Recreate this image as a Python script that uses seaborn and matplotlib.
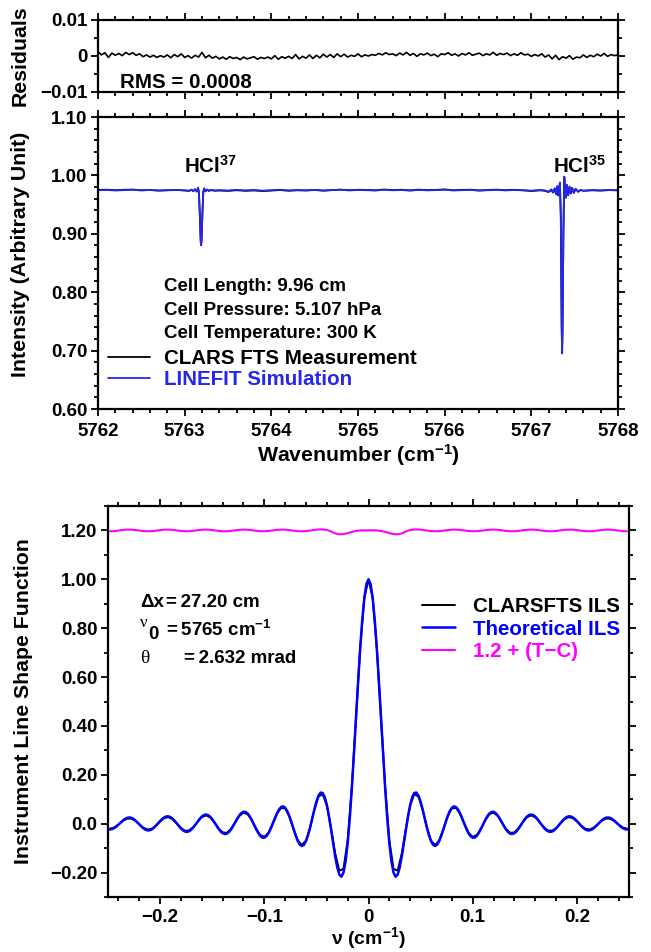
import numpy as np
import pandas as pd
import matplotlib
matplotlib.use("Agg")
import matplotlib.pyplot as plt
import seaborn as sns
from matplotlib.ticker import MultipleLocator, FuncFormatter

# ---------------- data ----------------
# Residuals (measurement - simulation), uniform 0.04 cm-1 sampling 5762..5768
resid = [
    0.0012, 0.0003, 0.0009, -0.0004, 0.0008, 0.0002, 0.0007, 0.0001, 0.0010, 0.0004,
    0.0009, 0.0002, 0.0006, -0.0002, 0.0003, -0.0003, 0.0002, -0.0004, 0.0001, -0.0003,
    0.0003, -0.0005, 0.0004, -0.0002, 0.0006, -0.0004, 0.0001, -0.0006, 0.0002, -0.0003,
    0.0010, -0.0005, 0.0002, -0.0006, -0.0001, -0.0008, -0.0003, -0.0009, -0.0002, -0.0007,
    -0.0004, -0.0010, -0.0003, -0.0008, -0.0005, -0.0002, -0.0009, -0.0004, -0.0007, -0.0003,
    -0.0008, 0.0001, -0.0009, -0.0002, -0.0006, -0.0001, -0.0007, 0.0004, -0.0008, -0.0001,
    -0.0006, 0.0003, -0.0007, 0.0002, -0.0005, 0.0005, -0.0003, 0.0004, -0.0004, 0.0006,
    -0.0002, 0.0005, -0.0003, 0.0002, -0.0001, 0.0006, -0.0002, 0.0003, 0.0000, 0.0004,
    0.0002, 0.0007, 0.0003, 0.0009, 0.0004, 0.0006, 0.0001, 0.0008, 0.0003, 0.0010,
    0.0002, 0.0007, -0.0001, 0.0006, 0.0003, 0.0008, 0.0001, 0.0005, -0.0002, 0.0006,
    0.0004, 0.0009, 0.0002, 0.0006, 0.0000, 0.0007, 0.0003, 0.0009, 0.0002, 0.0005,
    0.0008, 0.0001, 0.0006, 0.0003, 0.0010, 0.0002, 0.0007, 0.0004, 0.0008, 0.0001,
    0.0006, 0.0002, 0.0009, 0.0003, 0.0005, -0.0001, 0.0004, 0.0000, 0.0006, -0.0003,
    0.0003, -0.0008, 0.0002, -0.0010, -0.0002, -0.0006, 0.0001, -0.0009, -0.0003, -0.0005,
    0.0003, -0.0004, 0.0002, -0.0002, 0.0005, 0.0000, 0.0007, -0.0001, 0.0004, 0.0001,
    0.0003,
]
resid_nu = np.linspace(5762.0, 5768.0, len(resid))
rms_text = "RMS = 0.0008"

# Spectrum (wavenumber, LINEFIT simulation, CLARS FTS measurement)
spec_nu = [
    5762.0, 5762.1, 5762.2, 5762.3, 5762.4, 5762.5, 5762.6, 5762.7, 5762.8, 5762.9, 5763.0,
    5763.05, 5763.08, 5763.10, 5763.12, 5763.14, 5763.155, 5763.165, 5763.175, 5763.185, 5763.19,
    5763.195, 5763.205, 5763.215, 5763.225, 5763.24, 5763.26, 5763.28, 5763.30, 5763.35,
    5763.4, 5763.5, 5763.6, 5763.7, 5763.8, 5763.9, 5764.0, 5764.1, 5764.2, 5764.3,
    5764.4, 5764.5, 5764.6, 5764.7, 5764.8, 5764.9, 5765.0, 5765.1, 5765.2, 5765.3,
    5765.4, 5765.5, 5765.6, 5765.7, 5765.8, 5765.9, 5766.0, 5766.1, 5766.2, 5766.3,
    5766.4, 5766.5, 5766.6, 5766.7, 5766.8, 5766.9, 5767.0, 5767.1,
    5767.15, 5767.20, 5767.23, 5767.25, 5767.27, 5767.285, 5767.30, 5767.31, 5767.32, 5767.33,
    5767.34, 5767.35, 5767.355, 5767.36, 5767.37, 5767.38, 5767.39, 5767.40, 5767.41, 5767.425,
    5767.44, 5767.455, 5767.47, 5767.49, 5767.51, 5767.54, 5767.57, 5767.60,
    5767.7, 5767.8, 5767.9, 5768.0,
]
sim_int = [
    0.9745, 0.9751, 0.9741, 0.9748, 0.9754, 0.9743, 0.9750, 0.9740, 0.9747, 0.9752, 0.9744,
    0.9738, 0.9757, 0.9728, 0.9766, 0.9722, 0.9790, 0.9700, 0.9300, 0.8860, 0.8800,
    0.8880, 0.9350, 0.9720, 0.9780, 0.9725, 0.9760, 0.9732, 0.9752, 0.9742,
    0.9748, 0.9741, 0.9753, 0.9744, 0.9750, 0.9739, 0.9747, 0.9755, 0.9742, 0.9749,
    0.9744, 0.9752, 0.9740, 0.9748, 0.9754, 0.9743, 0.9750, 0.9746, 0.9741, 0.9753,
    0.9745, 0.9749, 0.9740, 0.9751, 0.9744, 0.9748, 0.9755, 0.9742, 0.9747, 0.9751,
    0.9739, 0.9746, 0.9752, 0.9743, 0.9749, 0.9745, 0.9738, 0.9750,
    0.9744, 0.9722, 0.9762, 0.9712, 0.9782, 0.9680, 0.9820, 0.9660, 0.9750, 0.9880,
    0.9300, 0.7400, 0.6950, 0.7350, 0.9000, 0.9980, 0.9750, 0.9620, 0.9840, 0.9660,
    0.9810, 0.9690, 0.9790, 0.9700, 0.9770, 0.9720, 0.9752, 0.9736,
    0.9745, 0.9740, 0.9748, 0.9743,
]
meas_int = [
    0.9752, 0.9755, 0.9747, 0.9754, 0.9757, 0.9746, 0.9750, 0.9741, 0.9745, 0.9750, 0.9742,
    0.9734, 0.9752, 0.9731, 0.9760, 0.9726, 0.9782, 0.9708, 0.9320, 0.8880, 0.8815,
    0.8895, 0.9360, 0.9712, 0.9772, 0.9729, 0.9755, 0.9736, 0.9748, 0.9738,
    0.9741, 0.9735, 0.9746, 0.9736, 0.9742, 0.9732, 0.9740, 0.9749, 0.9738, 0.9745,
    0.9742, 0.9750, 0.9740, 0.9749, 0.9756, 0.9746, 0.9754, 0.9751, 0.9745, 0.9758,
    0.9749, 0.9754, 0.9744, 0.9756, 0.9748, 0.9752, 0.9760, 0.9746, 0.9752, 0.9755,
    0.9743, 0.9751, 0.9756, 0.9747, 0.9752, 0.9746, 0.9733, 0.9744,
    0.9738, 0.9715, 0.9752, 0.9705, 0.9770, 0.9676, 0.9808, 0.9655, 0.9742, 0.9868,
    0.9310, 0.7420, 0.6965, 0.7370, 0.9010, 0.9965, 0.9745, 0.9618, 0.9832, 0.9662,
    0.9806, 0.9692, 0.9786, 0.9702, 0.9768, 0.9722, 0.9750, 0.9738,
    0.9747, 0.9742, 0.9750, 0.9745,
]
assert len(spec_nu) == len(sim_int) == len(meas_int)

cell_text = ["Cell Length: 9.96 cm", "Cell Pressure: 5.107 hPa", "Cell Temperature: 300 K"]
spec_labels = ["CLARS FTS Measurement", "LINEFIT Simulation"]

# Theoretical ILS, uniform 0.002 cm-1 sampling from -0.250 to 0.250
theo_ils = [
    -0.0223, -0.0236, -0.0222, -0.0182, -0.0120,
    -0.0042, 0.0041, 0.0121, 0.0188, 0.0234, 0.0254, 0.0245, 0.0207, 0.0144, 0.0063,
    -0.0027, -0.0115, -0.0191, -0.0247, -0.0275, -0.0271, -0.0235, -0.0171, -0.0086, 0.0010,
    0.0108, 0.0195, 0.0261, 0.0297, 0.0300, 0.0268, 0.0204, 0.0114, 0.0009, -0.0099,
    -0.0199, -0.0276, -0.0323, -0.0334, -0.0306, -0.0242, -0.0148, -0.0033, 0.0087, 0.0200,
    0.0293, 0.0354, 0.0375, 0.0352, 0.0288, 0.0188, 0.0063, -0.0072, -0.0203, -0.0314,
    -0.0390, -0.0424, -0.0408, -0.0345, -0.0240, -0.0101, 0.0053, 0.0205, 0.0339, 0.0436,
    0.0486, 0.0480, 0.0418, 0.0304, 0.0150, -0.0027, -0.0207, -0.0370, -0.0495, -0.0567,
    -0.0574, -0.0515, -0.0393, -0.0217, -0.0009, 0.0209, 0.0412, 0.0576, 0.0680, 0.0708,
    0.0654, 0.0519, 0.0315, 0.0063, -0.0210, -0.0474, -0.0700, -0.0851, -0.0912, -0.0869,
    -0.0718, -0.0472, -0.0152, 0.0211, 0.0578, 0.0902, 0.1145, 0.1272, 0.1256, 0.1087,
    0.0768, 0.0322, -0.0212, -0.0783, -0.1330, -0.1786, -0.2084, -0.2170, -0.1997, -0.1542,
    -0.0798, 0.0213, 0.1448, 0.2845, 0.4323, 0.5795, 0.7163, 0.8339, 0.9242, 0.9808,
    1.0000,
    0.9808, 0.9242, 0.8339, 0.7163, 0.5795, 0.4323, 0.2845, 0.1448, 0.0213, -0.0798,
    -0.1542, -0.1997, -0.2170, -0.2084, -0.1786, -0.1330, -0.0783, -0.0212, 0.0322, 0.0768,
    0.1087, 0.1256, 0.1272, 0.1145, 0.0902, 0.0578, 0.0211, -0.0152, -0.0472, -0.0718,
    -0.0869, -0.0912, -0.0851, -0.0700, -0.0474, -0.0210, 0.0063, 0.0315, 0.0519, 0.0654,
    0.0708, 0.0680, 0.0576, 0.0412, 0.0209, -0.0009, -0.0217, -0.0393, -0.0515, -0.0574,
    -0.0567, -0.0495, -0.0370, -0.0207, -0.0027, 0.0150, 0.0304, 0.0418, 0.0480, 0.0486,
    0.0436, 0.0339, 0.0205, 0.0053, -0.0101, -0.0240, -0.0345, -0.0408, -0.0424, -0.0390,
    -0.0314, -0.0203, -0.0072, 0.0063, 0.0188, 0.0288, 0.0352, 0.0375, 0.0354, 0.0293,
    0.0200, 0.0087, -0.0033, -0.0148, -0.0242, -0.0306, -0.0334, -0.0323, -0.0276, -0.0199,
    -0.0099, 0.0009, 0.0114, 0.0204, 0.0268, 0.0300, 0.0297, 0.0261, 0.0195, 0.0108,
    0.0010, -0.0086, -0.0171, -0.0235, -0.0271, -0.0275, -0.0247, -0.0191, -0.0115, -0.0027,
    0.0063, 0.0144, 0.0207, 0.0245, 0.0254, 0.0234, 0.0188, 0.0121, 0.0041, -0.0042,
    -0.0120, -0.0182, -0.0222, -0.0236, -0.0223,
]
# T - C difference, 0.004 cm-1 sampling -0.248..0.248
tc_diff = [
    -0.0035, -0.0026, -0.0006, 0.0017, 0.0033, 0.0033, 0.0019, -0.0004, -0.0025, -0.0035,
    -0.0029, -0.0011, 0.0013, 0.0031, 0.0034, 0.0023, 0.0001, -0.0021, -0.0034, -0.0032,
    -0.0015, 0.0009, 0.0028, 0.0035, 0.0026, 0.0006, -0.0018, -0.0033, -0.0033, -0.0019,
    0.0004, 0.0025, 0.0035, 0.0029, 0.0010, -0.0013, -0.0031, -0.0034, -0.0023, -0.0001,
    0.0022, 0.0034, 0.0031, 0.0014, -0.0009, -0.0028, -0.0035, -0.0026, -0.0005, 0.0020,
    0.0040, 0.0040, 0.0020, -0.0040, -0.0120, -0.0160, -0.0150, -0.0110, -0.0060, -0.0020,
    0.0000, 0.0005,
    0.0005,
    0.0005, 0.0000, -0.0020, -0.0060, -0.0110, -0.0150, -0.0160, -0.0120, -0.0040, 0.0020,
    0.0040, 0.0040, 0.0020, -0.0005, -0.0026, -0.0035, -0.0028, -0.0009, 0.0014, 0.0031,
    0.0034, 0.0022, -0.0001, -0.0023, -0.0034, -0.0031, -0.0013, 0.0010, 0.0029, 0.0035,
    0.0025, 0.0004, -0.0019, -0.0033, -0.0033, -0.0018, 0.0006, 0.0026, 0.0035, 0.0028,
    0.0009, -0.0015, -0.0032, -0.0034, -0.0021, 0.0001, 0.0023, 0.0034, 0.0031, 0.0013,
    -0.0011, -0.0029, -0.0035, -0.0025, -0.0004, 0.0019, 0.0033, 0.0033, 0.0017, -0.0006,
    -0.0026, -0.0035,
]
assert len(theo_ils) == 251 and len(tc_diff) == 125
ils_nu = np.linspace(-0.25, 0.25, len(theo_ils))
tc_nu = ils_nu[1::2]
ils_labels = ["CLARSFTS ILS", "Theoretical ILS", "1.2 + (T\u2212C)"]
tc_offset = 1.2

# ---------------- style ----------------
sns.set_theme(style="ticks")
plt.rcParams["font.family"] = ["Liberation Sans", "DejaVu Sans"]
plt.rcParams["font.weight"] = "bold"
plt.rcParams["axes.labelweight"] = "bold"
plt.rcParams["mathtext.default"] = "regular"
plt.rcParams["text.color"] = "black"
plt.rcParams["axes.labelcolor"] = "black"

FS = 13.5      # tick labels / annotations
FL = 14.8      # legend, RMS, HCl labels
FA = 15.3      # axis labels
SPEC_BLUE = "#2626ee"
ILS_BLUE = "#0000ff"
MAGENTA = "#ff00ff"


def style_axes(ax, xpad=5):
    for s in ax.spines.values():
        s.set_linewidth(1.6)
        s.set_color("black")
    ax.tick_params(which="both", direction="out", top=True, right=True,
                   colors="black", width=1.3)
    ax.tick_params(which="major", length=5, labelsize=FS)
    ax.tick_params(which="minor", length=3)
    ax.tick_params(axis="x", which="major", pad=xpad)
    ax.tick_params(axis="y", which="major", pad=2.5)
    for lab in ax.get_xticklabels() + ax.get_yticklabels():
        lab.set_fontweight("bold")


def minus_fmt(fmt):
    def f(v, pos):
        return fmt(v).replace("-", "\u2212")
    return FuncFormatter(f)


fig = plt.figure(figsize=(6.51, 9.52), dpi=100)
W, H = 651.0, 952.0
ax1 = fig.add_axes([98 / W, 1 - 92 / H, 520 / W, 72 / H])
ax2 = fig.add_axes([98 / W, 1 - 409 / H, 520 / W, 292 / H])
ax3 = fig.add_axes([108 / W, 1 - 897 / H, 521 / W, 391 / H])

# ---- residuals ----
sns.lineplot(x=resid_nu, y=resid, ax=ax1, color="black", lw=1.2,
             estimator=None, errorbar=None)
ax1.set_xlim(5762, 5768)
ax1.set_ylim(-0.01, 0.01)
ax1.xaxis.set_major_locator(MultipleLocator(1))
ax1.xaxis.set_minor_locator(MultipleLocator(0.2))
ax1.yaxis.set_major_locator(MultipleLocator(0.01))
ax1.yaxis.set_minor_locator(MultipleLocator(0.005))
ax1.yaxis.set_major_formatter(minus_fmt(lambda v: "0" if abs(v) < 1e-9 else f"{v:.2f}"))
ax1.tick_params(axis="x", labelbottom=False)
ax1.set_xlabel("")
ax1.set_ylabel("Residuals", fontsize=FA, fontweight="bold")
ax1.yaxis.set_label_coords(-0.131, 0.5)
ax1.text(0.042, 0.125, rms_text, transform=ax1.transAxes, ha="left", va="center",
         fontsize=FL, fontweight="bold")
style_axes(ax1)

# ---- spectrum ----
sns.lineplot(x=spec_nu, y=meas_int, ax=ax2, color="black", lw=1.3,
             estimator=None, errorbar=None, label=spec_labels[0])
sns.lineplot(x=spec_nu, y=sim_int, ax=ax2, color=SPEC_BLUE, lw=1.3,
             estimator=None, errorbar=None, label=spec_labels[1])
ax2.set_xlim(5762, 5768)
ax2.set_ylim(0.60, 1.10)
ax2.xaxis.set_major_locator(MultipleLocator(1))
ax2.xaxis.set_minor_locator(MultipleLocator(0.2))
ax2.yaxis.set_major_locator(MultipleLocator(0.1))
ax2.yaxis.set_minor_locator(MultipleLocator(0.02))
ax2.xaxis.set_major_formatter(FuncFormatter(lambda v, p: f"{v:.0f}"))
ax2.yaxis.set_major_formatter(FuncFormatter(lambda v, p: f"{v:.2f}"))
ax2.set_xlabel("Wavenumber (cm$^{-1}$)", fontsize=FA, fontweight="bold")
ax2.set_ylabel("Intensity (Arbitrary Unit)", fontsize=FA, fontweight="bold")
ax2.yaxis.set_label_coords(-0.131, 0.53)
ax2.xaxis.set_label_coords(0.5, -0.112)
ax2.text(5763.30, 1.016, "HCl$^{37}$", ha="center", va="center", fontsize=FL, fontweight="bold")
ax2.text(5767.56, 1.016, "HCl$^{35}$", ha="center", va="center", fontsize=FL, fontweight="bold")
for txt, yy in zip(cell_text, [0.418, 0.336, 0.257]):
    ax2.text(0.127, yy, txt, transform=ax2.transAxes, ha="left", va="center",
             fontsize=FS, fontweight="bold")
h, l = ax2.get_legend_handles_labels()
leg2 = ax2.legend(h, l, loc="center left", bbox_to_anchor=(0.019, 0.137), frameon=False,
                  handlelength=2.05, handletextpad=0.68, labelspacing=0.12,
                  borderpad=0, borderaxespad=0,
                  prop={"size": FL, "weight": "bold"})
for t, c in zip(leg2.get_texts(), ["black", SPEC_BLUE]):
    t.set_color(c)
style_axes(ax2)

# ---- ILS ----
clars_ils = np.array(theo_ils)[1::2] - np.array(tc_diff)
tc_line = tc_offset + np.array(tc_diff)
sns.lineplot(x=tc_nu, y=clars_ils, ax=ax3, color="black", lw=1.4,
             estimator=None, errorbar=None, label=ils_labels[0])
sns.lineplot(x=ils_nu, y=theo_ils, ax=ax3, color=ILS_BLUE, lw=1.8,
             estimator=None, errorbar=None, label=ils_labels[1])
sns.lineplot(x=tc_nu, y=tc_line, ax=ax3, color=MAGENTA, lw=1.5,
             estimator=None, errorbar=None, label=ils_labels[2])
ax3.set_xlim(-0.25, 0.25)
ax3.set_ylim(-0.30, 1.30)
ax3.xaxis.set_major_locator(MultipleLocator(0.1))
ax3.xaxis.set_minor_locator(MultipleLocator(0.02))
ax3.yaxis.set_major_locator(MultipleLocator(0.2))
ax3.yaxis.set_minor_locator(MultipleLocator(0.1))
ax3.xaxis.set_major_formatter(minus_fmt(lambda v: "0" if abs(v) < 1e-9 else f"{v:.1f}"))
ax3.yaxis.set_major_formatter(minus_fmt(lambda v: "0.0" if abs(v) < 1e-9 else f"{v:.2f}"))
ax3.set_xlabel("\u03bd (cm$^{-1}$)", fontsize=14, fontweight="bold")
ax3.set_ylabel("Instrument Line Shape Function", fontsize=FA, fontweight="bold")
ax3.yaxis.set_label_coords(-0.144, 0.5)
ax3.xaxis.set_label_coords(0.5, -0.072)
h, l = ax3.get_legend_handles_labels()
leg3 = ax3.legend(h, l, loc="center left", bbox_to_anchor=(0.603, 0.685), frameon=False,
                  handlelength=1.6, handletextpad=0.87, labelspacing=0.17,
                  borderpad=0, borderaxespad=0,
                  prop={"size": FL, "weight": "bold"})
for t, c in zip(leg3.get_texts(), ["black", ILS_BLUE, MAGENTA]):
    t.set_color(c)

tr = ax3.transAxes
ax3.text(0.061, 0.752, "\u0394x", transform=tr, ha="left", va="center", fontsize=FS, fontweight="bold")
ax3.text(0.111, 0.752, "=\u200927.20 cm", transform=tr, ha="left", va="center", fontsize=FS,
         fontweight="bold")
ax3.text(0.061, 0.700, "\u03bd", transform=tr, ha="left", va="center", fontsize=12,
         fontweight="normal", family=["Liberation Serif", "DejaVu Serif"])
ax3.text(0.077, 0.672, "0", transform=tr, ha="left", va="center", fontsize=FS, fontweight="bold")
ax3.text(0.111, 0.683, "=\u20095765 cm$^{-1}$", transform=tr, ha="left", va="center", fontsize=FS,
         fontweight="bold")
ax3.text(0.061, 0.611, "\u03b8", transform=tr, ha="left", va="center", fontsize=14,
         fontweight="normal", family=["Liberation Serif", "DejaVu Serif"])
ax3.text(0.146, 0.611, "=\u20092.632 mrad", transform=tr, ha="left", va="center", fontsize=FS,
         fontweight="bold")
style_axes(ax3, xpad=3.5)

fig.savefig("out.png", dpi=100)
